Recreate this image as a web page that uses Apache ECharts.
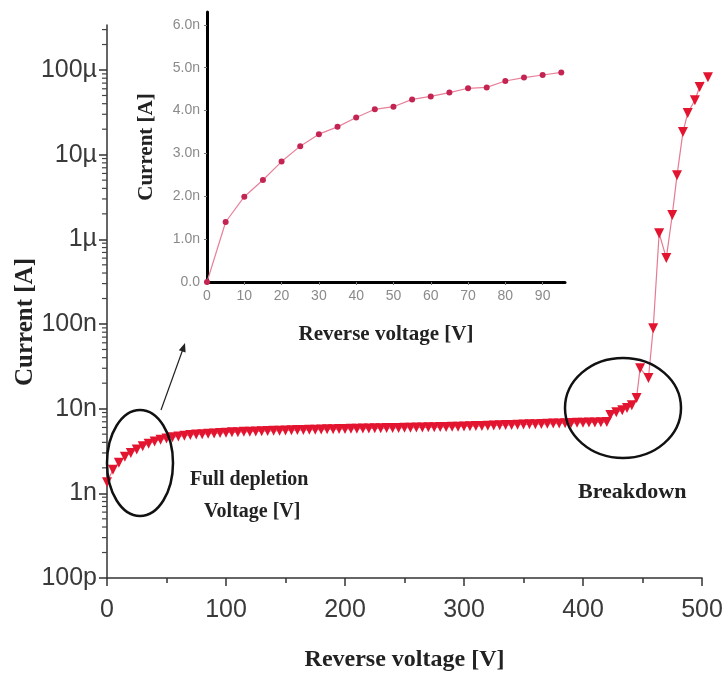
<!DOCTYPE html>
<html>
<head>
<meta charset="utf-8">
<script src="https://cdn.jsdelivr.net/npm/echarts@6/dist/echarts.min.js"></script>
<style>html,body{margin:0;padding:0;background:#fff}#c{width:722px;height:679px}</style>
</head>
<body>
<div id="c"></div>
<script>
// ---- main I-V curve (reverse voltage [V], current [A]) ----
const mainVoltage = [0,5,10,15,20,25,30,35,40,45,50,55,60,65,70,75,80,85,90,95,
  100,105,110,115,120,125,130,135,140,145,150,155,160,165,170,175,180,185,190,195,
  200,205,210,215,220,225,230,235,240,245,250,255,260,265,270,275,280,285,290,295,
  300,305,310,315,320,325,330,335,340,345,350,355,360,365,370,375,380,385,390,395,
  400,405,410,415,420,
  423,428,433,437,441,445,448,455,459,464,470,475,479,484,488,494,498,505];
const mainCurrent_nA = [1.35,1.9,2.3,2.7,3.0,3.3,3.6,3.85,4.1,4.3,4.45,4.6,4.7,4.8,4.9,4.95,5.0,5.05,5.1,5.15,
  5.2,5.25,5.28,5.32,5.35,5.38,5.42,5.45,5.48,5.5,5.53,5.56,5.58,5.6,5.63,5.65,5.67,5.7,5.72,5.74,
  5.76,5.78,5.8,5.82,5.84,5.86,5.88,5.9,5.91,5.93,5.95,5.96,5.98,6.0,6.02,6.04,6.06,6.08,6.1,6.13,
  6.16,6.2,6.23,6.26,6.3,6.33,6.36,6.4,6.43,6.46,6.5,6.53,6.56,6.6,6.63,6.66,6.7,6.73,6.76,6.8,
  6.83,6.85,6.88,6.9,6.95,
  8.4,9.1,9.6,10.2,11,13.4,30,23,89,1180,600,1940,5700,18500,31000,44000,63000,82000];
const yTickLabels = {'-10':'100p','-9':'1n','-8':'10n','-7':'100n','-6':'1µ','-5':'10µ','-4':'100µ'};

// ---- inset (linear, 0-95 V) ----
const insetVoltage = [0,5,10,15,20,25,30,35,40,45,50,55,60,65,70,75,80,85,90,95];
const insetCurrent_nA = [0,1.40,1.99,2.38,2.81,3.17,3.45,3.62,3.84,4.03,4.09,4.26,4.33,4.42,4.52,4.54,4.69,4.77,4.83,4.89];
const insetYTickLabels = ['0.0','1.0n','2.0n','3.0n','4.0n','5.0n','6.0n'];

const mainData = mainVoltage.map((v,i)=>[v, mainCurrent_nA[i]*1e-9]);
const insetData = insetVoltage.map((v,i)=>[v, insetCurrent_nA[i]]);
const minorVals = [];
for (let d=-10; d<=-4; d++) for (let m=2; m<=9; m++) { const val=m*Math.pow(10,d); if (val<3.4e-4) minorVals.push([0,val]); }

const tickFont = '"Liberation Sans",Arial,sans-serif';
const serif = '"Liberation Serif","Times New Roman",serif';

const chart = echarts.init(document.getElementById('c'));
chart.setOption({
  animation:false,
  backgroundColor:'#fff',
  grid:[
    {left:107, right:20, top:25, bottom:101, containLabel:false, outerBoundsMode:'none'},
    {left:207, right:157, top:12, bottom:397, containLabel:false, outerBoundsMode:'none'}
  ],
  xAxis:[
    {gridIndex:0, type:'value', min:0, max:500, interval:100,
     name:'Reverse voltage [V]', nameLocation:'middle', nameGap:70,
     nameTextStyle:{fontFamily:serif, fontWeight:'bold', fontSize:24, color:'#222'},
     axisLine:{lineStyle:{color:'#333', width:1.5}},
     axisTick:{length:8, lineStyle:{color:'#333', width:1.5}},
     minorTick:{show:true, splitNumber:2, length:5, lineStyle:{color:'#333', width:1.5}},
     axisLabel:{margin:20, fontFamily:tickFont, fontSize:25, color:'#3a3a3a'},
     splitLine:{show:false}},
    {gridIndex:1, type:'value', min:0, max:96, interval:10,
     name:'Reverse voltage [V]', nameLocation:'middle', nameGap:42,
     nameTextStyle:{fontFamily:serif, fontWeight:'bold', fontSize:21, color:'#222'},
     axisLine:{lineStyle:{color:'#000', width:3}},
     axisTick:{length:3, lineStyle:{color:'#777', width:1}},
     axisLabel:{margin:7, fontFamily:tickFont, fontSize:14, color:'#8a8a8a', showMaxLabel:false},
     splitLine:{show:false}}
  ],
  yAxis:[
    {gridIndex:0, type:'log', logBase:10, min:1e-10, max:3.4e-4,
     axisLine:{show:true, lineStyle:{color:'#333', width:1.5}},
     axisTick:{show:true, length:8, lineStyle:{color:'#333', width:1.5}},
     axisLabel:{margin:10, fontFamily:tickFont, fontSize:25, color:'#3a3a3a', showMaxLabel:false,
       formatter:function(v){ const l=Math.log10(v); const r=Math.round(l); if (Math.abs(l-r)>1e-6) return ''; return yTickLabels[String(r)]||''; }},
     splitLine:{show:false}},
    {gridIndex:1, type:'value', min:0, max:6.3, interval:1,
     name:'Current [A]', nameLocation:'middle', nameGap:50, nameRotate:90,
     nameTextStyle:{fontFamily:serif, fontWeight:'bold', fontSize:21, color:'#222'},
     axisLine:{show:true, lineStyle:{color:'#000', width:3}},
     axisTick:{show:true, length:3, lineStyle:{color:'#777', width:1}},
     axisLabel:{margin:7, fontFamily:tickFont, fontSize:14, color:'#8a8a8a', showMaxLabel:false,
       formatter:function(v){ const i=Math.round(v); return Math.abs(v-i)<1e-6 ? (insetYTickLabels[i]||'') : ''; }},
     splitLine:{show:false}}
  ],
  series:[
    {type:'custom', xAxisIndex:0, yAxisIndex:0, data:minorVals, silent:true, clip:false, z:1,
     renderItem:function(params, api){ const p=api.coord([0, api.value(1)]);
       return {type:'line', shape:{x1:p[0]-5, y1:p[1], x2:p[0], y2:p[1]}, style:{stroke:'#444', lineWidth:1.2}}; }},
    {type:'line', xAxisIndex:0, yAxisIndex:0, data:mainData, clip:false,
     symbol:'triangle', symbolRotate:180, symbolSize:10,
     itemStyle:{color:'#e3142f'}, lineStyle:{color:'#e57b92', width:1.2}},
    {type:'line', xAxisIndex:1, yAxisIndex:1, data:insetData,
     symbol:'circle', symbolSize:6,
     itemStyle:{color:'#c42452'}, lineStyle:{color:'#e8809a', width:1.2}}
  ],
  graphic:[
    {type:'text', x:26, y:322, rotation:Math.PI/2, style:{text:'Current [A]', font:'bold 25px "Liberation Serif", serif', fill:'#222', align:'center', verticalAlign:'middle'}, z:100},
    {type:'ellipse', shape:{cx:140, cy:463, rx:33, ry:53}, style:{fill:null, stroke:'#111', lineWidth:2.5}, z:100},
    {type:'ellipse', shape:{cx:623, cy:408, rx:58, ry:50}, style:{fill:null, stroke:'#111', lineWidth:2.5}, z:100},
    {type:'line', shape:{x1:161, y1:410, x2:183, y2:349}, style:{stroke:'#222', lineWidth:1.2}, z:100},
    {type:'polygon', shape:{points:[[185,343],[185.6,352.6],[178.8,350.2]]}, style:{fill:'#222'}, z:100},
    {type:'text', left:190, top:470, style:{text:'Full depletion', font:'bold 20px "Liberation Serif", serif', fill:'#222'}, z:100},
    {type:'text', left:204, top:502, style:{text:'Voltage [V]', font:'bold 20px "Liberation Serif", serif', fill:'#222'}, z:100},
    {type:'text', left:578, top:481, style:{text:'Breakdown', font:'bold 22px "Liberation Serif", serif', fill:'#222'}, z:100}
  ]
});
</script>
</body>
</html>
